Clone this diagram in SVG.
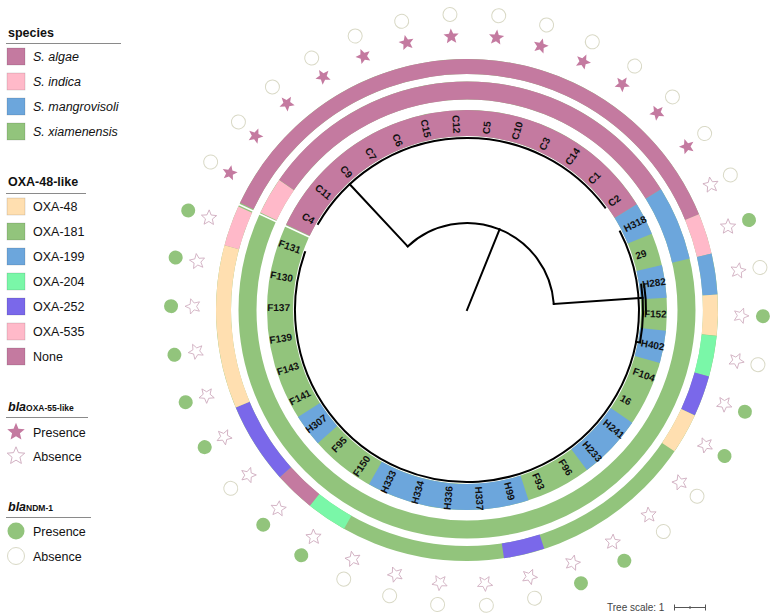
<svg xmlns="http://www.w3.org/2000/svg" xmlns:xlink="http://www.w3.org/1999/xlink" width="774" height="614" viewBox="0 0 774 614">
<style>
text{font-family:"Liberation Sans",Arial,sans-serif;fill:#111}
.ttl{font-size:12.5px;font-weight:bold}
.it{font-size:12.5px;font-style:italic}
.lg{font-size:12.5px}
.sub{font-size:8.5px;font-weight:bold;font-style:normal}
.lr{font-size:10px;font-weight:bold;dominant-baseline:central;text-anchor:start}
.ll{font-size:10px;font-weight:bold;dominant-baseline:central;text-anchor:end}
.rl{fill:none;stroke-width:26}
.rs{fill:none;stroke-width:18}
.ro{fill:none;stroke-width:15}
.sw{stroke:#00000033;stroke-width:0.6}
.tree{fill:none;stroke:#000;stroke-width:2;stroke-linecap:square}
.cf{fill:#92C47C}
.ch{fill:#fff;stroke:#D9D9C6;stroke-width:1}
.hr{stroke:#8a8a8a;stroke-width:1}
</style>
<defs>
<polygon id="sf" fill="#C47AA0" points="0,-8 2.12,-2.91 7.61,-2.47 3.42,1.11 4.70,6.47 0,3.6 -4.70,6.47 -3.42,1.11 -7.61,-2.47 -2.12,-2.91"/>
<polygon id="sh" fill="#fff" stroke="#CDA9BC" stroke-width="0.8" points="0,-8 2.12,-2.91 7.61,-2.47 3.42,1.11 4.70,6.47 0,3.6 -4.70,6.47 -3.42,1.11 -7.61,-2.47 -2.12,-2.91"/>
</defs>

<!-- legend -->
<g id="legend-species">
<text class="ttl" x="8" y="37">species</text>
<line class="hr" x1="6" y1="43.5" x2="121" y2="43.5"/>
<rect class="sw" x="7" y="48" width="18" height="17" fill="#C47AA0"/><text class="it" x="33" y="61">S. algae</text>
<rect class="sw" x="7" y="73" width="18" height="17" fill="#FFB9C9"/><text class="it" x="33" y="86">S. indica</text>
<rect class="sw" x="7" y="98" width="18" height="17" fill="#6CA6DC"/><text class="it" x="33" y="111">S. mangrovisoli</text>
<rect class="sw" x="7" y="123" width="18" height="17" fill="#92C47C"/><text class="it" x="33" y="136">S. xiamenensis</text>
</g>
<g id="legend-oxa48">
<text class="ttl" x="8" y="186">OXA-48-like</text>
<line class="hr" x1="6" y1="193.5" x2="86" y2="193.5"/>
<rect class="sw" x="7" y="198" width="18" height="17" fill="#FFDFB0"/><text class="lg" x="33" y="211">OXA-48</text>
<rect class="sw" x="7" y="223" width="18" height="17" fill="#92C47C"/><text class="lg" x="33" y="236">OXA-181</text>
<rect class="sw" x="7" y="248" width="18" height="17" fill="#6CA6DC"/><text class="lg" x="33" y="261">OXA-199</text>
<rect class="sw" x="7" y="273" width="18" height="17" fill="#7AF7A8"/><text class="lg" x="33" y="286">OXA-204</text>
<rect class="sw" x="7" y="298" width="18" height="17" fill="#7A68EA"/><text class="lg" x="33" y="311">OXA-252</text>
<rect class="sw" x="7" y="323" width="18" height="17" fill="#FFB9C9"/><text class="lg" x="33" y="336">OXA-535</text>
<rect class="sw" x="7" y="348" width="18" height="17" fill="#C47AA0"/><text class="lg" x="33" y="361">None</text>
</g>
<g id="legend-oxa55">
<text class="ttl" x="8" y="411"><tspan font-style="italic">bla</tspan><tspan class="sub">OXA-55-like</tspan></text>
<line class="hr" x1="6" y1="417.5" x2="88" y2="417.5"/>
<use href="#sf" x="16" y="432" transform="translate(16 432) scale(1.15) translate(-16 -432)"/><text class="lg" x="33" y="436.5">Presence</text>
<use href="#sh" x="16" y="456" transform="translate(16 456) scale(1.15) translate(-16 -456)"/><text class="lg" x="33" y="460.5">Absence</text>
</g>
<g id="legend-ndm1">
<text class="ttl" x="8" y="511"><tspan font-style="italic">bla</tspan><tspan class="sub">NDM-1</tspan></text>
<line class="hr" x1="6" y1="517.5" x2="91" y2="517.5"/>
<circle class="cf" cx="16" cy="531" r="8.5"/><text class="lg" x="33" y="535.5">Presence</text>
<circle class="ch" cx="16" cy="556" r="8.5"/><text class="lg" x="33" y="560.5">Absence</text>
</g>

<!-- rings -->
<g id="ring-labels">
<circle class="rl" cx="467" cy="310" r="187" stroke="#92C47C"/>
<circle class="rl" cx="467" cy="310" r="187" pathLength="360" stroke="#C47AA0" stroke-dasharray="122.85 400" transform="rotate(-154.73 467 310)"/>
<circle class="rl" cx="467" cy="310" r="187" pathLength="360" stroke="#6CA6DC" stroke-dasharray="9.45 400" transform="rotate(-31.88 467 310)"/>
<circle class="rl" cx="467" cy="310" r="187" pathLength="360" stroke="#6CA6DC" stroke-dasharray="9.45 400" transform="rotate(-12.98 467 310)"/>
<circle class="rl" cx="467" cy="310" r="187" pathLength="360" stroke="#6CA6DC" stroke-dasharray="9.45 400" transform="rotate(5.93 467 310)"/>
<circle class="rl" cx="467" cy="310" r="187" pathLength="360" stroke="#6CA6DC" stroke-dasharray="18.9 400" transform="rotate(34.28 467 310)"/>
<circle class="rl" cx="467" cy="310" r="187" pathLength="360" stroke="#6CA6DC" stroke-dasharray="47.25 400" transform="rotate(72.08 467 310)"/>
<circle class="rl" cx="467" cy="310" r="187" pathLength="360" stroke="#6CA6DC" stroke-dasharray="9.45 400" transform="rotate(138.23 467 310)"/>
</g>
<g id="ring-species">
<circle class="rs" cx="467" cy="310" r="219.5" stroke="#92C47C"/>
<circle class="rs" cx="467" cy="310" r="219.5" pathLength="360" stroke="#FFB9C9" stroke-dasharray="9.45 400" transform="rotate(-154.73 467 310)"/>
<circle class="rs" cx="467" cy="310" r="219.5" pathLength="360" stroke="#C47AA0" stroke-dasharray="113.4 400" transform="rotate(-145.28 467 310)"/>
<circle class="rs" cx="467" cy="310" r="219.5" pathLength="360" stroke="#6CA6DC" stroke-dasharray="18.9 400" transform="rotate(-31.88 467 310)"/>
</g>
<g id="ring-oxa48">
<circle class="ro" cx="467" cy="310" r="243.5" stroke="#92C47C"/>
<circle class="ro" cx="467" cy="310" r="243.5" pathLength="360" stroke="#C47AA0" stroke-dasharray="132.3 400" transform="rotate(-154.73 467 310)"/>
<circle class="ro" cx="467" cy="310" r="243.5" pathLength="360" stroke="#FFB9C9" stroke-dasharray="9.45 400" transform="rotate(-22.43 467 310)"/>
<circle class="ro" cx="467" cy="310" r="243.5" pathLength="360" stroke="#6CA6DC" stroke-dasharray="9.45 400" transform="rotate(-12.98 467 310)"/>
<circle class="ro" cx="467" cy="310" r="243.5" pathLength="360" stroke="#FFDFB0" stroke-dasharray="9.45 400" transform="rotate(-3.53 467 310)"/>
<circle class="ro" cx="467" cy="310" r="243.5" pathLength="360" stroke="#7AF7A8" stroke-dasharray="9.45 400" transform="rotate(5.93 467 310)"/>
<circle class="ro" cx="467" cy="310" r="243.5" pathLength="360" stroke="#7A68EA" stroke-dasharray="9.45 400" transform="rotate(15.38 467 310)"/>
<circle class="ro" cx="467" cy="310" r="243.5" pathLength="360" stroke="#FFDFB0" stroke-dasharray="9.45 400" transform="rotate(24.83 467 310)"/>
<circle class="ro" cx="467" cy="310" r="243.5" pathLength="360" stroke="#7A68EA" stroke-dasharray="9.45 400" transform="rotate(72.08 467 310)"/>
<circle class="ro" cx="467" cy="310" r="243.5" pathLength="360" stroke="#7AF7A8" stroke-dasharray="9.45 400" transform="rotate(119.33 467 310)"/>
<circle class="ro" cx="467" cy="310" r="243.5" pathLength="360" stroke="#C47AA0" stroke-dasharray="9.45 400" transform="rotate(128.78 467 310)"/>
<circle class="ro" cx="467" cy="310" r="243.5" pathLength="360" stroke="#7A68EA" stroke-dasharray="18.9 400" transform="rotate(138.23 467 310)"/>
<circle class="ro" cx="467" cy="310" r="243.5" pathLength="360" stroke="#FFDFB0" stroke-dasharray="37.8 400" transform="rotate(157.13 467 310)"/>
<circle class="ro" cx="467" cy="310" r="243.5" pathLength="360" stroke="#FFB9C9" stroke-dasharray="9.45 400" transform="rotate(194.93 467 310)"/>
</g>
<line x1="467" y1="138" x2="467" y2="57" stroke="#fff" stroke-width="1.5" transform="rotate(294.83 467 310)"/>

<!-- tree connectors -->
<g id="connectors" class="tree">
<path d="M467 310 L499.6 229.3"/>
<path d="M407.7 246.4 A87 87 0 0 1 553.8 303.9"/>
<path d="M407.7 246.4 L349.7 184.2"/>
<path d="M318.0 224.0 A172 172 0 0 1 605.1 207.5"/>
<path d="M553.8 303.9 L642.6 297.7"/>
<path d="M620.0 231.5 A172 172 0 1 1 305.0 252.2"/>
<path d="M641.2 284.7 A176 176 0 0 1 640.0 342.5 L636.0 341.8"/>
<path d="M644.1 284.3 A179 179 0 0 1 646.0 313.7"/>
</g>

<!-- leaves: label, blaOXA-55-like star, blaNDM-1 circle -->
<g id="leaf-C4"><text class="ll" x="290" y="310" transform="rotate(30.00 467 310)">C4</text><use href="#sf" x="467" y="36" transform="rotate(-60.00 467 310)"/><circle class="ch" cx="467" cy="14" r="7" transform="rotate(-60.00 467 310)"/></g>
<g id="leaf-C11"><text class="ll" x="290" y="310" transform="rotate(39.45 467 310)">C11</text><use href="#sf" x="467" y="36" transform="rotate(-50.55 467 310)"/><circle class="ch" cx="467" cy="14" r="7" transform="rotate(-50.55 467 310)"/></g>
<g id="leaf-C9"><text class="ll" x="290" y="310" transform="rotate(48.90 467 310)">C9</text><use href="#sf" x="467" y="36" transform="rotate(-41.10 467 310)"/><circle class="ch" cx="467" cy="14" r="7" transform="rotate(-41.10 467 310)"/></g>
<g id="leaf-C7"><text class="ll" x="290" y="310" transform="rotate(58.35 467 310)">C7</text><use href="#sf" x="467" y="36" transform="rotate(-31.65 467 310)"/><circle class="ch" cx="467" cy="14" r="7" transform="rotate(-31.65 467 310)"/></g>
<g id="leaf-C6"><text class="ll" x="290" y="310" transform="rotate(67.80 467 310)">C6</text><use href="#sf" x="467" y="36" transform="rotate(-22.20 467 310)"/><circle class="ch" cx="467" cy="14" r="7" transform="rotate(-22.20 467 310)"/></g>
<g id="leaf-C15"><text class="ll" x="290" y="310" transform="rotate(77.25 467 310)">C15</text><use href="#sf" x="467" y="36" transform="rotate(-12.75 467 310)"/><circle class="ch" cx="467" cy="14" r="7" transform="rotate(-12.75 467 310)"/></g>
<g id="leaf-C12"><text class="ll" x="290" y="310" transform="rotate(86.70 467 310)">C12</text><use href="#sf" x="467" y="36" transform="rotate(-3.30 467 310)"/><circle class="ch" cx="467" cy="14" r="7" transform="rotate(-3.30 467 310)"/></g>
<g id="leaf-C5"><text class="lr" x="644" y="310" transform="rotate(-83.85 467 310)">C5</text><use href="#sf" x="467" y="36" transform="rotate(6.15 467 310)"/><circle class="ch" cx="467" cy="14" r="7" transform="rotate(6.15 467 310)"/></g>
<g id="leaf-C10"><text class="lr" x="644" y="310" transform="rotate(-74.40 467 310)">C10</text><use href="#sf" x="467" y="36" transform="rotate(15.60 467 310)"/><circle class="ch" cx="467" cy="14" r="7" transform="rotate(15.60 467 310)"/></g>
<g id="leaf-C3"><text class="lr" x="644" y="310" transform="rotate(-64.95 467 310)">C3</text><use href="#sf" x="467" y="36" transform="rotate(25.05 467 310)"/><circle class="ch" cx="467" cy="14" r="7" transform="rotate(25.05 467 310)"/></g>
<g id="leaf-C14"><text class="lr" x="644" y="310" transform="rotate(-55.50 467 310)">C14</text><use href="#sf" x="467" y="36" transform="rotate(34.50 467 310)"/><circle class="ch" cx="467" cy="14" r="7" transform="rotate(34.50 467 310)"/></g>
<g id="leaf-C1"><text class="lr" x="644" y="310" transform="rotate(-46.05 467 310)">C1</text><use href="#sf" x="467" y="36" transform="rotate(43.95 467 310)"/><circle class="ch" cx="467" cy="14" r="7" transform="rotate(43.95 467 310)"/></g>
<g id="leaf-C2"><text class="lr" x="644" y="310" transform="rotate(-36.60 467 310)">C2</text><use href="#sf" x="467" y="36" transform="rotate(53.40 467 310)"/><circle class="ch" cx="467" cy="14" r="7" transform="rotate(53.40 467 310)"/></g>
<g id="leaf-H318"><text class="lr" x="644" y="310" transform="rotate(-27.15 467 310)">H318</text><use href="#sh" x="467" y="36" transform="rotate(62.85 467 310)"/><circle class="ch" cx="467" cy="14" r="7" transform="rotate(62.85 467 310)"/></g>
<g id="leaf-29"><text class="lr" x="644" y="310" transform="rotate(-17.70 467 310)">29</text><use href="#sh" x="467" y="36" transform="rotate(72.30 467 310)"/><circle class="cf" cx="467" cy="14" r="7" transform="rotate(72.30 467 310)"/></g>
<g id="leaf-H282"><text class="lr" x="644" y="310" transform="rotate(-8.25 467 310)">H282</text><use href="#sh" x="467" y="36" transform="rotate(81.75 467 310)"/><circle class="ch" cx="467" cy="14" r="7" transform="rotate(81.75 467 310)"/></g>
<g id="leaf-F152"><text class="lr" x="644" y="310" transform="rotate(1.20 467 310)">F152</text><use href="#sh" x="467" y="36" transform="rotate(91.20 467 310)"/><circle class="cf" cx="467" cy="14" r="7" transform="rotate(91.20 467 310)"/></g>
<g id="leaf-H402"><text class="lr" x="644" y="310" transform="rotate(10.65 467 310)">H402</text><use href="#sh" x="467" y="36" transform="rotate(100.65 467 310)"/><circle class="ch" cx="467" cy="14" r="7" transform="rotate(100.65 467 310)"/></g>
<g id="leaf-F104"><text class="lr" x="644" y="310" transform="rotate(20.10 467 310)">F104</text><use href="#sh" x="467" y="36" transform="rotate(110.10 467 310)"/><circle class="cf" cx="467" cy="14" r="7" transform="rotate(110.10 467 310)"/></g>
<g id="leaf-16"><text class="lr" x="644" y="310" transform="rotate(29.55 467 310)">16</text><use href="#sh" x="467" y="36" transform="rotate(119.55 467 310)"/><circle class="cf" cx="467" cy="14" r="7" transform="rotate(119.55 467 310)"/></g>
<g id="leaf-H241"><text class="lr" x="644" y="310" transform="rotate(39.00 467 310)">H241</text><use href="#sh" x="467" y="36" transform="rotate(129.00 467 310)"/><circle class="ch" cx="467" cy="14" r="7" transform="rotate(129.00 467 310)"/></g>
<g id="leaf-H233"><text class="lr" x="644" y="310" transform="rotate(48.45 467 310)">H233</text><use href="#sh" x="467" y="36" transform="rotate(138.45 467 310)"/><circle class="ch" cx="467" cy="14" r="7" transform="rotate(138.45 467 310)"/></g>
<g id="leaf-F96"><text class="lr" x="644" y="310" transform="rotate(57.90 467 310)">F96</text><use href="#sh" x="467" y="36" transform="rotate(147.90 467 310)"/><circle class="cf" cx="467" cy="14" r="7" transform="rotate(147.90 467 310)"/></g>
<g id="leaf-F93"><text class="lr" x="644" y="310" transform="rotate(67.35 467 310)">F93</text><use href="#sh" x="467" y="36" transform="rotate(157.35 467 310)"/><circle class="cf" cx="467" cy="14" r="7" transform="rotate(157.35 467 310)"/></g>
<g id="leaf-H99"><text class="lr" x="644" y="310" transform="rotate(76.80 467 310)">H99</text><use href="#sh" x="467" y="36" transform="rotate(166.80 467 310)"/><circle class="ch" cx="467" cy="14" r="7" transform="rotate(166.80 467 310)"/></g>
<g id="leaf-H337"><text class="lr" x="644" y="310" transform="rotate(86.25 467 310)">H337</text><use href="#sh" x="467" y="36" transform="rotate(176.25 467 310)"/><circle class="ch" cx="467" cy="14" r="7" transform="rotate(176.25 467 310)"/></g>
<g id="leaf-H336"><text class="ll" x="290" y="310" transform="rotate(275.70 467 310)">H336</text><use href="#sh" x="467" y="36" transform="rotate(185.70 467 310)"/><circle class="ch" cx="467" cy="14" r="7" transform="rotate(185.70 467 310)"/></g>
<g id="leaf-H334"><text class="ll" x="290" y="310" transform="rotate(285.15 467 310)">H334</text><use href="#sh" x="467" y="36" transform="rotate(195.15 467 310)"/><circle class="ch" cx="467" cy="14" r="7" transform="rotate(195.15 467 310)"/></g>
<g id="leaf-H333"><text class="ll" x="290" y="310" transform="rotate(294.60 467 310)">H333</text><use href="#sh" x="467" y="36" transform="rotate(204.60 467 310)"/><circle class="ch" cx="467" cy="14" r="7" transform="rotate(204.60 467 310)"/></g>
<g id="leaf-F150"><text class="ll" x="290" y="310" transform="rotate(304.05 467 310)">F150</text><use href="#sh" x="467" y="36" transform="rotate(214.05 467 310)"/><circle class="cf" cx="467" cy="14" r="7" transform="rotate(214.05 467 310)"/></g>
<g id="leaf-F95"><text class="ll" x="290" y="310" transform="rotate(313.50 467 310)">F95</text><use href="#sh" x="467" y="36" transform="rotate(223.50 467 310)"/><circle class="cf" cx="467" cy="14" r="7" transform="rotate(223.50 467 310)"/></g>
<g id="leaf-H307"><text class="ll" x="290" y="310" transform="rotate(322.95 467 310)">H307</text><use href="#sh" x="467" y="36" transform="rotate(232.95 467 310)"/><circle class="ch" cx="467" cy="14" r="7" transform="rotate(232.95 467 310)"/></g>
<g id="leaf-F141"><text class="ll" x="290" y="310" transform="rotate(332.40 467 310)">F141</text><use href="#sh" x="467" y="36" transform="rotate(242.40 467 310)"/><circle class="cf" cx="467" cy="14" r="7" transform="rotate(242.40 467 310)"/></g>
<g id="leaf-F143"><text class="ll" x="290" y="310" transform="rotate(341.85 467 310)">F143</text><use href="#sh" x="467" y="36" transform="rotate(251.85 467 310)"/><circle class="cf" cx="467" cy="14" r="7" transform="rotate(251.85 467 310)"/></g>
<g id="leaf-F139"><text class="ll" x="290" y="310" transform="rotate(351.30 467 310)">F139</text><use href="#sh" x="467" y="36" transform="rotate(261.30 467 310)"/><circle class="cf" cx="467" cy="14" r="7" transform="rotate(261.30 467 310)"/></g>
<g id="leaf-F137"><text class="ll" x="290" y="310" transform="rotate(0.75 467 310)">F137</text><use href="#sh" x="467" y="36" transform="rotate(270.75 467 310)"/><circle class="cf" cx="467" cy="14" r="7" transform="rotate(270.75 467 310)"/></g>
<g id="leaf-F130"><text class="ll" x="290" y="310" transform="rotate(10.20 467 310)">F130</text><use href="#sh" x="467" y="36" transform="rotate(280.20 467 310)"/><circle class="cf" cx="467" cy="14" r="7" transform="rotate(280.20 467 310)"/></g>
<g id="leaf-F131"><text class="ll" x="290" y="310" transform="rotate(19.65 467 310)">F131</text><use href="#sh" x="467" y="36" transform="rotate(289.65 467 310)"/><circle class="cf" cx="467" cy="14" r="7" transform="rotate(289.65 467 310)"/></g>

<!-- tree scale -->
<g id="tree-scale">
<text x="607" y="611" style="font-size:10px;fill:#444">Tree scale: 1</text>
<path d="M674 607.5 H706 M674.5 604.5 V610.5 M705.5 604.5 V610.5 M690 606 V609" stroke="#555" stroke-width="1" fill="none"/>
</g>
</svg>
